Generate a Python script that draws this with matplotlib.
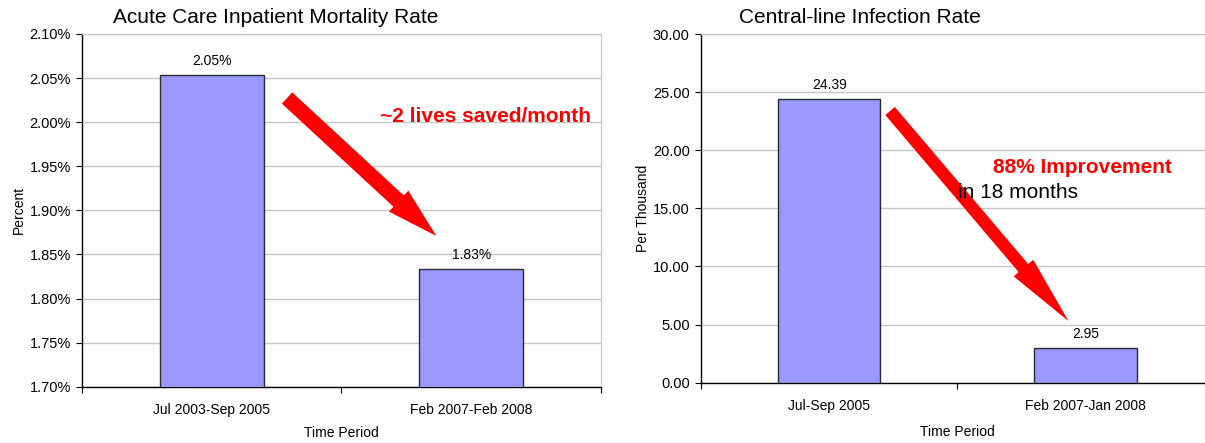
#!/usr/bin/env python3
"""
Quality exhibit: inpatient mortality and central-line infection rates,
before vs after, two bar panels side by side.
"""

import matplotlib
matplotlib.use("Agg")
import matplotlib.pyplot as plt
import matplotlib.ticker as mticker

# ── DATA ─────────────────────────────────────────────────
MORT_PERIODS = ["Jul 2003-Sep 2005", "Feb 2007-Feb 2008"]
MORT_RATE    = [2.054, 1.834]          # percent
MORT_TICKS   = [1.70, 1.75, 1.80, 1.85, 1.90, 1.95, 2.00, 2.05, 2.10]

CLI_PERIODS  = ["Jul-Sep 2005", "Feb 2007-Jan 2008"]
CLI_RATE     = [24.39, 2.95]           # per thousand
CLI_TICKS    = [0, 5, 10, 15, 20, 25, 30]

# ── PALETTE ──────────────────────────────────────────────
BAR_FILL  = "#9999FF"
BAR_EDGE  = "#2B2B2B"
GRID      = "#C6C6C6"
ARROW_RED = "#FF0000"

plt.rcParams["font.family"] = ["Liberation Sans", "DejaVu Sans"]


def style_axes(ax, periods, ticks, fmt):
    ax.set_xlim(-0.5, 1.5)
    ax.set_ylim(ticks[0], ticks[-1])
    ax.set_yticks(ticks)
    ax.yaxis.set_major_formatter(mticker.FuncFormatter(lambda v, _: fmt.format(v)))

    ax.set_xticks(range(len(periods)))
    ax.set_xticklabels(periods)
    ax.set_xticks([-0.5, 0.5, 1.5], minor=True)
    ax.tick_params(axis="x", which="major", length=0, pad=12, labelsize=10)
    ax.tick_params(axis="x", which="minor", length=4, width=0.8, direction="out")
    ax.tick_params(axis="y", length=4, width=0.8, direction="out", pad=4, labelsize=10.5)

    ax.yaxis.grid(True, color=GRID, linewidth=1)
    ax.set_axisbelow(True)
    ax.spines["left"].set_color("black")
    ax.spines["bottom"].set_color("black")
    ax.spines["top"].set_color(GRID)
    ax.spines["right"].set_color(GRID)
    for s in ("left", "bottom"):
        ax.spines[s].set_linewidth(1.0)


def arrow(ax, tail, tip, shaft, head_w, head_l):
    ax.annotate("", xy=tip, xytext=tail,
                arrowprops=dict(arrowstyle=f"simple,head_length={head_l},"
                                           f"head_width={head_w},tail_width={shaft}",
                                fc=ARROW_RED, ec="none", shrinkA=0, shrinkB=0,
                                mutation_scale=1),
                zorder=4, annotation_clip=False)


fig = plt.figure(figsize=(12.05, 4.43), dpi=100, facecolor="white")

# ── LEFT: MORTALITY ──────────────────────────────────────
ax1 = fig.add_axes([0.0680, 0.1271, 0.4307, 0.7962])
bars = ax1.bar(range(len(MORT_RATE)), MORT_RATE, width=0.4,
               color=BAR_FILL, edgecolor=BAR_EDGE, linewidth=1, zorder=3)
style_axes(ax1, MORT_PERIODS, MORT_TICKS, "{:.2f}%")
ax1.bar_label(bars, labels=[f"{v:.2f}%" for v in MORT_RATE], padding=5, fontsize=10)
ax1.set_xlabel("Time Period", fontsize=10)
ax1.xaxis.set_label_coords(0.5, -0.112)
ax1.set_ylabel("Percent", fontsize=10)
ax1.yaxis.set_label_coords(-0.108, 0.5)

arrow(ax1, (0.2905, 2.0274), (0.8658, 1.8709), shaft=11, head_w=20.5, head_l=37)
ax1.text(0.6475, 2.0062, "~2 lives saved/month", color=ARROW_RED,
         fontsize=15, fontweight="bold", ha="left", va="center", zorder=5)

fig.text(0.0938, 0.9616, "Acute Care Inpatient Mortality Rate",
         fontsize=15, ha="left", va="center")

# ── RIGHT: CENTRAL-LINE INFECTIONS ───────────────────────
ax2 = fig.add_axes([0.5817, 0.1361, 0.4256, 0.7871])
bars = ax2.bar(range(len(CLI_RATE)), CLI_RATE, width=0.4,
               color=BAR_FILL, edgecolor=BAR_EDGE, linewidth=1, zorder=3)
style_axes(ax2, CLI_PERIODS, CLI_TICKS, "{:.2f}")
ax2.bar_label(bars, labels=[f"{v:.2f}" for v in CLI_RATE], padding=5, fontsize=10)
ax2.set_xlabel("Time Period", fontsize=10)
ax2.xaxis.set_label_coords(0.5, -0.121)
ax2.set_ylabel("Per Thousand", fontsize=10)
ax2.yaxis.set_label_coords(-0.099, 0.5)

arrow(ax2, (0.2375, 23.38), (0.933, 5.31), shaft=9, head_w=18.5, head_l=50)
ax2.text(0.6404, 18.50, "88% Improvement", color=ARROW_RED,
         fontsize=15, fontweight="bold", ha="left", va="center", zorder=5)
ax2.text(0.5039, 16.38, "in 18 months", color="black",
         fontsize=15, ha="left", va="center", zorder=5)

fig.text(0.6133, 0.9616, "Central-line Infection Rate",
         fontsize=15, ha="left", va="center")

fig.savefig("out.png", dpi=100, facecolor="white")
